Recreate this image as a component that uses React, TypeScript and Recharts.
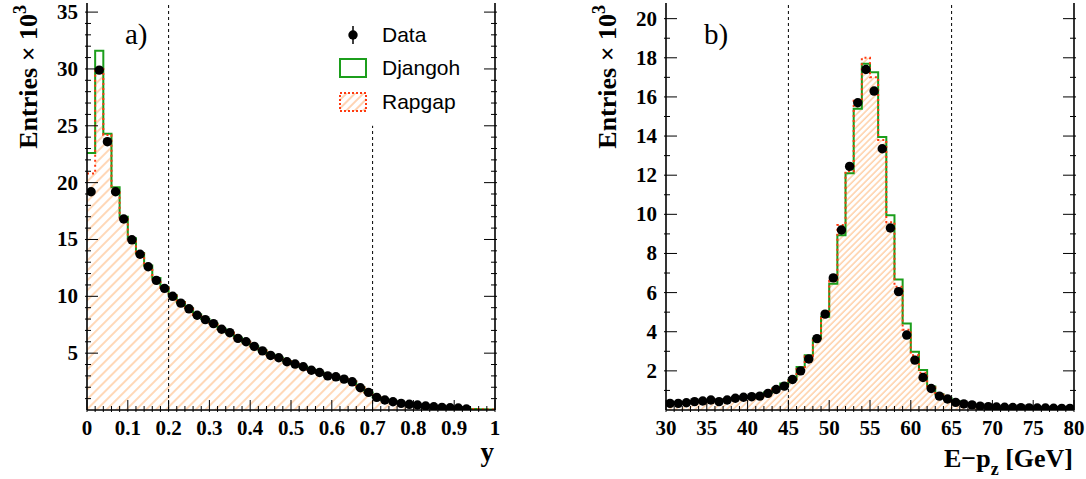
import { ComposedChart, Area, Line, Scatter, XAxis, YAxis, ReferenceLine } from 'recharts';

// panel a): y distribution, 50 bins of 0.02, entries in units of 10^3
const yBins = { lo: 0, width: 0.02 };
const yData = [
  19.2, 29.9, 23.6, 19.2, 16.8, 14.97, 13.7, 12.6, 11.4, 10.7,
  10.0, 9.4, 8.9, 8.33, 7.95, 7.6, 7.1, 6.8, 6.3, 6.0,
  5.6, 5.2, 4.8, 4.6, 4.24, 4.04, 3.8, 3.5, 3.3, 3.0,
  2.92, 2.72, 2.48, 1.96, 1.55, 1.11, 0.88, 0.73, 0.58, 0.5,
  0.44, 0.35, 0.29, 0.23, 0.2, 0.17, 0.09,
];
const yDjangoh = [
  22.6, 31.6, 24.3, 19.6, 17.0, 15.1, 13.8, 12.7, 11.6, 10.8,
  10.1, 9.5, 8.95, 8.4, 8.0, 7.6, 7.15, 6.8, 6.35, 6.0,
  5.6, 5.25, 4.85, 4.6, 4.3, 4.05, 3.8, 3.55, 3.3, 3.05,
  2.9, 2.7, 2.5, 2.0, 1.55, 1.12, 0.9, 0.74, 0.6, 0.5,
  0.43, 0.36, 0.3, 0.25, 0.2, 0.17, 0.12, 0.08, 0.06, 0.05,
];
const yRapgap = [
  20.8, 30.0, 24.2, 19.4, 16.9, 15.0, 13.75, 12.65, 11.5, 10.75,
  10.05, 9.45, 8.9, 8.35, 7.97, 7.6, 7.12, 6.8, 6.32, 6.0,
  5.6, 5.22, 4.82, 4.6, 4.27, 4.05, 3.8, 3.52, 3.3, 3.02,
  2.9, 2.7, 2.5, 1.98, 1.55, 1.1, 0.88, 0.73, 0.59, 0.5,
  0.43, 0.35, 0.29, 0.24, 0.2, 0.17, 0.11, 0.08, 0.06, 0.05,
];
const yTickLabels = ['0', '0.1', '0.2', '0.3', '0.4', '0.5', '0.6', '0.7', '0.8', '0.9', '1'];
const yCuts = [0.2, 0.7];

// panel b): E-pz distribution, 50 bins of 1 GeV
const epzBins = { lo: 30, width: 1 };
const epzData = [
  0.34, 0.34, 0.37, 0.43, 0.46, 0.51, 0.43, 0.51, 0.6, 0.65,
  0.68, 0.71, 0.85, 1.05, 1.22, 1.56, 2.0, 2.61, 3.65, 4.9,
  6.75, 9.2, 12.45, 15.7, 17.4, 16.3, 13.35, 9.3, 6.05, 3.83,
  2.55, 1.66, 1.1, 0.71, 0.56, 0.39, 0.31, 0.26, 0.2, 0.17,
  0.15, 0.14, 0.13, 0.12, 0.11, 0.1, 0.1, 0.09, 0.08, 0.08,
];
const epzDjangoh = [
  0.36, 0.36, 0.38, 0.43, 0.46, 0.5, 0.47, 0.53, 0.6, 0.66,
  0.7, 0.75, 0.9, 1.1, 1.36, 1.55, 2.2, 2.8, 3.65, 4.76,
  6.45, 8.93, 12.1, 15.4, 17.7, 17.26, 13.95, 9.95, 6.67, 4.42,
  2.98, 2.04, 1.2, 0.8, 0.6, 0.45, 0.34, 0.27, 0.21, 0.18,
  0.15, 0.14, 0.13, 0.12, 0.11, 0.1, 0.1, 0.09, 0.08, 0.08,
];
const epzRapgap = [
  0.35, 0.35, 0.37, 0.42, 0.45, 0.49, 0.46, 0.52, 0.6, 0.65,
  0.69, 0.73, 0.88, 1.07, 1.3, 1.6, 2.1, 2.75, 3.7, 4.85,
  6.6, 9.45, 12.2, 15.8, 18.0, 17.0, 13.8, 9.6, 6.3, 4.1,
  2.8, 1.9, 1.15, 0.78, 0.58, 0.43, 0.33, 0.26, 0.2, 0.17,
  0.15, 0.14, 0.13, 0.12, 0.11, 0.1, 0.1, 0.09, 0.08, 0.08,
];
const epzTickLabels = ['30', '35', '40', '45', '50', '55', '60', '65', '70', '75', '80'];
const epzCuts = [45, 65];

const SERIF = '"Liberation Serif", "Times New Roman", serif';
const SANS = '"Liberation Sans", Arial, sans-serif';
const GREEN = '#1c9e1c';
const RED = '#ff3a10';

type Cfg = {
  id: string;
  left: number;
  ml: number;
  mr: number;
  lo: number;
  bw: number;
  data: number[];
  dj: number[];
  rg: number[];
  xMax: number;
  xMinor: number;
  xMajor: number;
  xLabels: string[];
  yMax: number;
  yMajor: number;
  cuts: number[];
  cutTop: (number | null)[];
  hatch: number;
  hatchColor: string;
  panel: string;
  xTitle: 'y' | 'epz';
};

function Panel({ cfg }: { cfg: Cfg }) {
  const n = cfg.dj.length;
  const rows = cfg.dj.map((d, i) => ({ x: cfg.lo + i * cfg.bw, dj: d, rg: cfg.rg[i] }));
  rows.push({ x: cfg.lo + n * cfg.bw, dj: cfg.dj[n - 1], rg: cfg.rg[n - 1] });
  const pts = cfg.data.map((v, i) => ({ x: cfg.lo + (i + 0.5) * cfg.bw, y: v }));

  const nX = Math.round((cfg.xMax - cfg.lo) / cfg.xMinor);
  const xTicks = Array.from({ length: nX + 1 }, (_, i) => cfg.lo + (i * (cfg.xMax - cfg.lo)) / nX);
  const yTicks = Array.from({ length: Math.floor(cfg.yMax) }, (_, i) => i + 1);
  const isXMajor = (v: number) => {
    const k = (v - cfg.lo) / cfg.xMajor;
    return Math.abs(k - Math.round(k)) < 1e-6;
  };
  const isYMajor = (v: number) => v % cfg.yMajor === 0;

  const bottomTick = (p: any) => {
    const v = p.payload.value;
    const major = isXMajor(v);
    return (
      <g>
        <line x1={p.x} x2={p.x} y1={p.y} y2={p.y - (major ? 12 : 6)} stroke="#000" strokeWidth={1} />
        {major && (
          <text x={p.x} y={p.y + 23} textAnchor="middle" fontFamily={SERIF} fontWeight="bold" fontSize={21} fill="#000">
            {cfg.xLabels[Math.round((v - cfg.lo) / cfg.xMajor)]}
          </text>
        )}
      </g>
    );
  };
  const leftTick = (p: any) => {
    const v = p.payload.value;
    const major = isYMajor(v);
    return (
      <g>
        <line x1={p.x} x2={p.x + (major ? 13 : 6)} y1={p.y} y2={p.y} stroke="#000" strokeWidth={1} />
        {major && (
          <text x={p.x - 7} y={p.y + 7} textAnchor="end" fontFamily={SERIF} fontWeight="bold" fontSize={21} fill="#000">
            {v}
          </text>
        )}
      </g>
    );
  };
  const rightTick = (p: any) => {
    const major = isYMajor(p.payload.value);
    return <line x1={p.x} x2={p.x - (major ? 13 : 6)} y1={p.y} y2={p.y} stroke="#000" strokeWidth={1} />;
  };

  const yTitle = (p: any) => {
    const bx = p.viewBox.x + p.viewBox.width - 50;
    const by = 5;
    return (
      <text
        x={bx}
        y={by}
        transform={`rotate(-90, ${bx}, ${by})`}
        textAnchor="end"
        fontFamily={SERIF}
        fontWeight="bold"
        fontSize={26}
        fill="#000"
      >
        Entries × 10<tspan dy={-11} fontSize={18}>3</tspan>
      </text>
    );
  };
  const xTitle = (p: any) => {
    const rx = p.viewBox.x + p.viewBox.width - 1;
    if (cfg.xTitle === 'y') {
      return (
        <text x={rx} y={461} textAnchor="end" fontFamily={SERIF} fontWeight="bold" fontSize={27} fill="#000">
          y
        </text>
      );
    }
    return (
      <text x={rx} y={467} textAnchor="end" fontFamily={SERIF} fontWeight="bold" fontSize={26} fill="#000">
        E−p<tspan dy={8} fontSize={18}>z</tspan>
        <tspan dy={-8}> [GeV]</tspan>
      </text>
    );
  };

  const axisLine = { stroke: '#000', strokeWidth: 1.6 };

  return (
    <div style={{ position: 'absolute', left: cfg.left, top: 0, width: 543, height: 479 }}>
      <ComposedChart width={543} height={479} data={rows} margin={{ top: 3, right: cfg.mr, bottom: 0, left: cfg.ml }}>
        <defs>
          <pattern
            id={`hatch-${cfg.id}`}
            width={cfg.hatch}
            height={cfg.hatch}
            patternUnits="userSpaceOnUse"
            patternTransform="rotate(45)"
          >
            <rect width={cfg.hatch} height={cfg.hatch} fill="#fff" />
            <line x1={1} y1={0} x2={1} y2={cfg.hatch} stroke={cfg.hatchColor} strokeWidth={1.3} />
          </pattern>
        </defs>
        <XAxis
          xAxisId="b"
          dataKey="x"
          type="number"
          domain={[cfg.lo, cfg.xMax]}
          ticks={xTicks}
          interval={0}
          tickSize={0}
          tickLine={false}
          tick={bottomTick}
          height={69}
          axisLine={axisLine}
          allowDataOverflow
          label={{ content: xTitle }}
        />
        <XAxis
          xAxisId="t"
          orientation="top"
          type="number"
          domain={[cfg.lo, cfg.xMax]}
          height={0}
          tick={false}
          tickLine={false}
          axisLine={axisLine}
          allowDataOverflow
        />
        <YAxis
          yAxisId="l"
          type="number"
          domain={[0, cfg.yMax]}
          ticks={yTicks}
          interval={0}
          tickSize={0}
          tickLine={false}
          tick={leftTick}
          width={60}
          axisLine={axisLine}
          allowDataOverflow
          label={{ content: yTitle }}
        />
        <YAxis
          yAxisId="r"
          orientation="right"
          type="number"
          domain={[0, cfg.yMax]}
          ticks={yTicks}
          interval={0}
          tickSize={0}
          tickLine={false}
          tick={rightTick}
          width={10}
          axisLine={axisLine}
          allowDataOverflow
        />
        <Area
          xAxisId="b"
          yAxisId="l"
          type="stepAfter"
          dataKey="rg"
          stroke="none"
          fill={`url(#hatch-${cfg.id})`}
          fillOpacity={1}
          isAnimationActive={false}
        />
        <Line
          xAxisId="b"
          yAxisId="l"
          type="stepAfter"
          dataKey="dj"
          stroke={GREEN}
          strokeWidth={2}
          dot={false}
          activeDot={false}
          isAnimationActive={false}
        />
        <Line
          xAxisId="b"
          yAxisId="l"
          type="stepAfter"
          dataKey="rg"
          stroke={RED}
          strokeWidth={2}
          strokeDasharray="2 3"
          dot={false}
          activeDot={false}
          isAnimationActive={false}
        />
        {cfg.cuts.map((c, i) =>
          cfg.cutTop[i] == null ? (
            <ReferenceLine key={c} xAxisId="b" yAxisId="l" x={c} stroke="#000" strokeWidth={1} strokeDasharray="3 3" />
          ) : (
            <ReferenceLine
              key={c}
              xAxisId="b"
              yAxisId="l"
              segment={[
                { x: c, y: 0 },
                { x: c, y: cfg.cutTop[i] as number },
              ]}
              stroke="#000"
              strokeWidth={1}
              strokeDasharray="3 3"
            />
          )
        )}
        <Scatter
          xAxisId="b"
          yAxisId="l"
          data={pts}
          dataKey="y"
          isAnimationActive={false}
          shape={(p: any) => <circle cx={p.cx} cy={p.cy} r={4.7} fill="#000" />}
        />
      </ComposedChart>
      <div
        style={{
          position: 'absolute',
          left: cfg.ml + 60 + 38,
          top: 20,
          fontFamily: SERIF,
          fontSize: 29,
          lineHeight: '29px',
          color: '#000',
        }}
      >
        {cfg.panel}
      </div>
    </div>
  );
}

function LegendBox() {
  const row = { position: 'absolute' as const, left: 0, height: 22, display: 'flex', alignItems: 'center' };
  const label = { fontFamily: SANS, fontSize: 21, color: '#000', marginLeft: 15 };
  return (
    <div style={{ position: 'absolute', left: 339, top: 24, width: 150, height: 100 }}>
      <div style={{ ...row, top: 0 }}>
        <svg width={28} height={22}>
          <line x1={14} x2={14} y1={2} y2={20} stroke="#000" strokeWidth={1.5} />
          <circle cx={14} cy={11} r={4.7} fill="#000" />
        </svg>
        <span style={label}>Data</span>
      </div>
      <div style={{ ...row, top: 33 }}>
        <svg width={28} height={22}>
          <rect x={1} y={2} width={26} height={18} fill="none" stroke={GREEN} strokeWidth={2} />
        </svg>
        <span style={label}>Djangoh</span>
      </div>
      <div style={{ ...row, top: 67 }}>
        <svg width={28} height={22}>
          <defs>
            <pattern id="hatch-leg" width={6} height={6} patternUnits="userSpaceOnUse" patternTransform="rotate(45)">
              <line x1={1} y1={0} x2={1} y2={6} stroke="#ffbb88" strokeWidth={1.3} />
            </pattern>
          </defs>
          <rect x={1} y={2} width={26} height={18} fill="url(#hatch-leg)" stroke={RED} strokeWidth={2} strokeDasharray="2 2" />
        </svg>
        <span style={label}>Rapgap</span>
      </div>
    </div>
  );
}

const panelA: Cfg = {
  id: 'a',
  left: 0,
  ml: 27,
  mr: 38,
  lo: yBins.lo,
  bw: yBins.width,
  data: yData,
  dj: yDjangoh,
  rg: yRapgap,
  xMax: 1,
  xMinor: 0.02,
  xMajor: 0.1,
  xLabels: yTickLabels,
  yMax: 35.8,
  yMajor: 5,
  cuts: yCuts,
  cutTop: [null, 25],
  hatch: 7,
  hatchColor: '#ffc491',
  panel: 'a)',
  xTitle: 'y',
};

const panelB: Cfg = {
  id: 'b',
  left: 543,
  ml: 63,
  mr: 2,
  lo: epzBins.lo,
  bw: epzBins.width,
  data: epzData,
  dj: epzDjangoh,
  rg: epzRapgap,
  xMax: 80,
  xMinor: 1,
  xMajor: 5,
  xLabels: epzTickLabels,
  yMax: 20.8,
  yMajor: 2,
  cuts: epzCuts,
  cutTop: [null, null],
  hatch: 4.5,
  hatchColor: '#ffc899',
  panel: 'b)',
  xTitle: 'epz',
};

export default function App() {
  return (
    <div style={{ position: 'absolute', left: 0, top: 0, width: 1086, height: 479, background: '#fff', overflow: 'hidden' }}>
      <Panel cfg={panelA} />
      <Panel cfg={panelB} />
      <LegendBox />
    </div>
  );
}
